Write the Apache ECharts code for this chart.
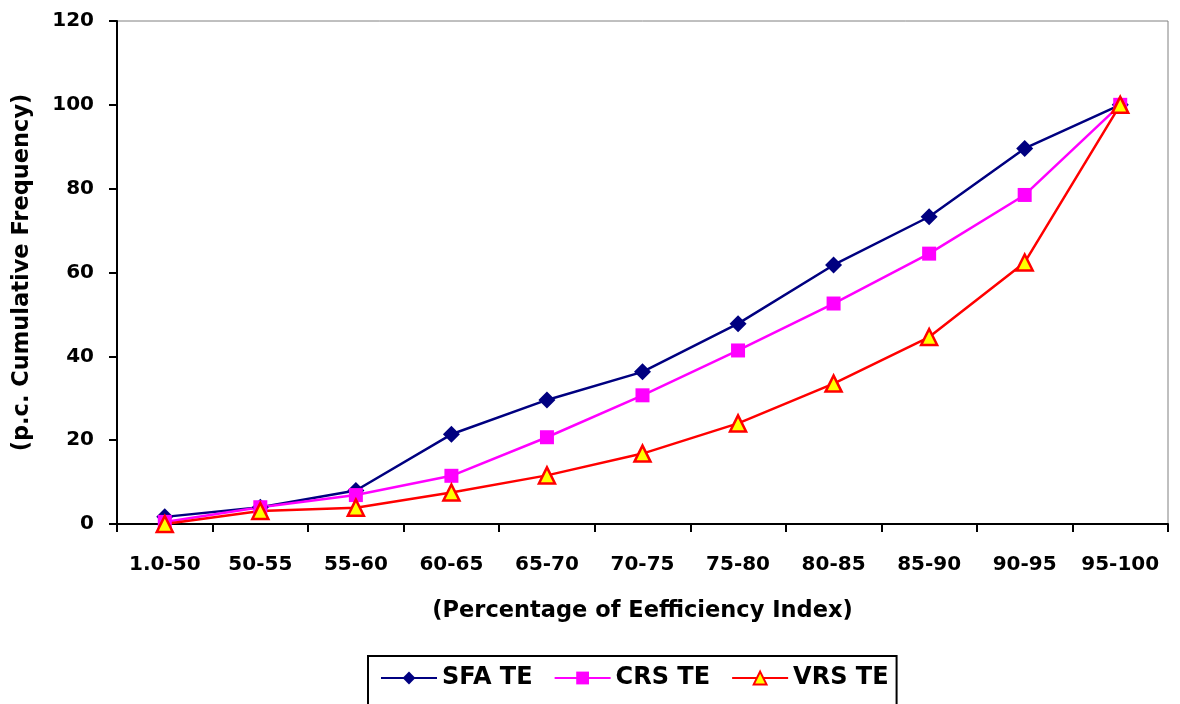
<!DOCTYPE html>
<html>
<head>
<meta charset="utf-8">
<script src="https://cdn.jsdelivr.net/npm/echarts@6/dist/echarts.min.js"></script>
<style>
  html, body { margin: 0; padding: 0; background: #fff; }
  #chart { width: 1180px; height: 704px; }
</style>
</head>
<body>
<div id="chart"></div>
<script>
const categories = ['1.0-50', '50-55', '55-60', '60-65', '65-70', '70-75', '75-80', '80-85', '85-90', '90-95', '95-100'];
const sfaTE = [1.7, 4.0, 8.0, 21.4, 29.6, 36.3, 47.8, 61.8, 73.3, 89.6, 100];
const crsTE = [0.5, 4.0, 6.9, 11.5, 20.7, 30.7, 41.4, 52.6, 64.5, 78.5, 100];
const vrsTE = [0, 3.1, 3.9, 7.5, 11.6, 16.8, 24.0, 33.5, 44.6, 62.4, 100];

const font = '"DejaVu Sans", Arial, sans-serif';
const chart = echarts.init(document.getElementById('chart'));

chart.setOption({
  animation: false,
  backgroundColor: '#fff',
  grid: {
    left: 117, right: 12, top: 21, bottom: 180,
    outerBoundsMode: 'none', containLabel: false,
    show: true, borderColor: '#808080', borderWidth: 1
  },
  legend: {
    left: 368, top: 656,
    itemWidth: 56, itemHeight: 16, itemGap: 21,
    padding: [10, 8, 30, 12],
    borderColor: '#000', borderWidth: 2,
    textStyle: { fontFamily: font, fontWeight: 'bold', fontSize: 24, color: '#000' },
    data: ['SFA TE', 'CRS TE', 'VRS TE']
  },
  xAxis: {
    type: 'category',
    data: categories,
    boundaryGap: true,
    name: '(Percentage of Eefficiency Index)',
    nameLocation: 'middle',
    nameGap: 76,
    nameTextStyle: { fontFamily: font, fontWeight: 'bold', fontSize: 22.5, color: '#000' },
    axisLine: { lineStyle: { color: '#000', width: 2 } },
    axisTick: { show: true, inside: false, length: 8, lineStyle: { color: '#000', width: 2 } },
    axisLabel: { fontFamily: font, fontWeight: 'bold', fontSize: 20, color: '#000', margin: 31, interval: 0 },
    splitLine: { show: false }
  },
  yAxis: {
    type: 'value',
    min: 0, max: 120, interval: 20,
    name: '(p.c. Cumulative Frequency)',
    nameLocation: 'middle',
    nameGap: 83,
    nameRotate: 90,
    nameTextStyle: { fontFamily: font, fontWeight: 'bold', fontSize: 22.5, color: '#000' },
    axisLine: { show: true, lineStyle: { color: '#000', width: 2 } },
    axisTick: { show: true, length: 8, lineStyle: { color: '#000', width: 2 } },
    axisLabel: { fontFamily: font, fontWeight: 'bold', fontSize: 20, color: '#000', margin: 23 },
    splitLine: { show: false }
  },
  series: [
    {
      name: 'SFA TE', type: 'line', data: sfaTE,
      symbol: 'diamond', symbolSize: 17,
      lineStyle: { color: '#000080', width: 2.5 },
      itemStyle: { color: '#000080' }
    },
    {
      name: 'CRS TE', type: 'line', data: crsTE,
      symbol: 'rect', symbolSize: 14,
      lineStyle: { color: '#ff00ff', width: 2.5 },
      itemStyle: { color: '#ff00ff' }
    },
    {
      name: 'VRS TE', type: 'line', data: vrsTE,
      symbol: 'triangle', symbolSize: 16,
      lineStyle: { color: '#ff0000', width: 2.5 },
      itemStyle: { color: '#ffff00', borderColor: '#ff0000', borderWidth: 2.5 }
    }
  ]
});
</script>
</body>
</html>
